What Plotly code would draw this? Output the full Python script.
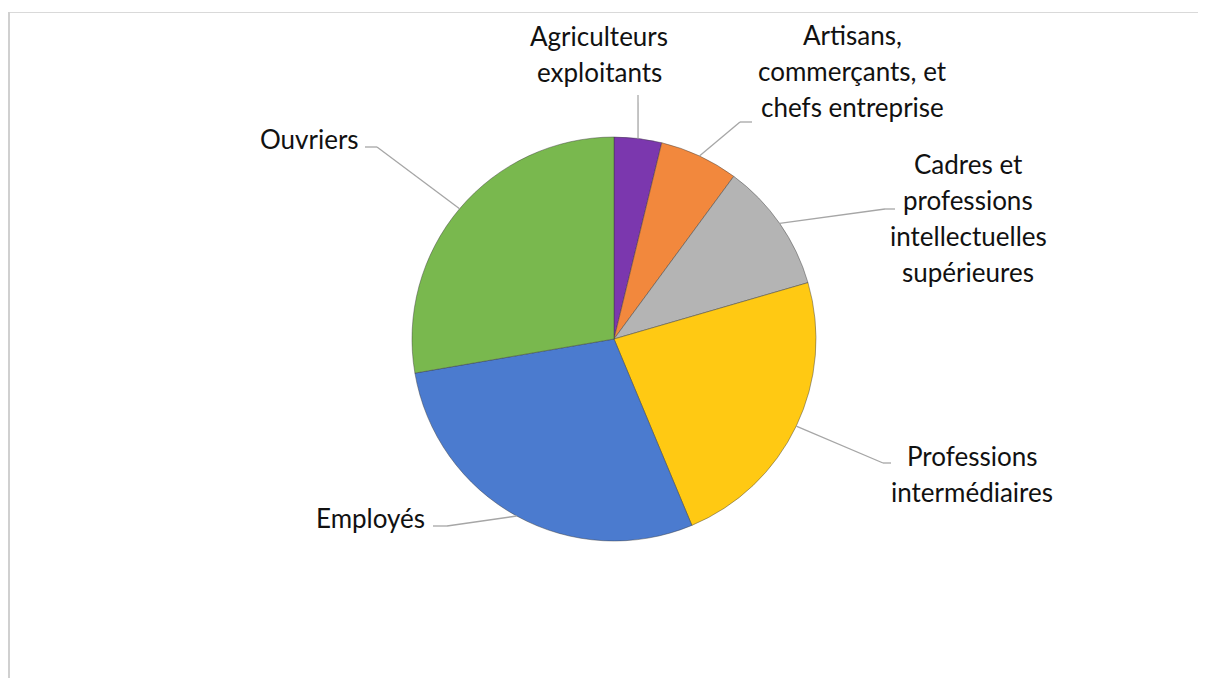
import math

import plotly.graph_objects as go

# slice data, clockwise from 12 o'clock
categories = [
    "Agriculteurs<br>exploitants",
    "Artisans,<br>commerçants, et<br>chefs entreprise",
    "Cadres et<br>professions<br>intellectuelles<br>supérieures",
    "Professions<br>intermédiaires",
    "Employés",
    "Ouvriers",
]
shares = [3.8, 6.3, 10.4, 23.2, 28.6, 27.7]
colors = ["#7b37ae", "#f2883d", "#b4b4b4", "#ffc913", "#4b7bcf", "#79b84e"]

# the page has an 8px body margin, so the figure sits 8px in from the window corner
PAGE_OFF = 8
W, H = 1206 - PAGE_OFF, 678 - PAGE_OFF
CX, CY, R = 614, 339, 202  # window pixels
LINE_H = 36

# label placement (window pixels): anchor point, xanchor, elbow of leader line, end of leader line
label_layout = [
    {"x": 599, "y": 54, "xanchor": "center", "elbow": (638, 95), "end": (638, 95)},
    {"x": 852, "y": 71, "xanchor": "center", "elbow": (740, 122), "end": (752, 122)},
    {"x": 968, "y": 218, "xanchor": "center", "elbow": (885, 209), "end": (895, 209)},
    {"x": 972, "y": 474, "xanchor": "center", "elbow": (883, 463), "end": (891, 463)},
    {"x": 427, "y": 518, "xanchor": "right", "elbow": (447, 526), "end": (433, 526)},
    {"x": 361, "y": 139, "xanchor": "right", "elbow": (377, 147), "end": (365, 147)},
]


def px(x, y):
    return (x - PAGE_OFF) / W, 1 - (y - PAGE_OFF) / H


fig = go.Figure()

x0, _ = px(CX - R, 0)
x1, _ = px(CX + R, 0)
_, y0 = px(0, CY + R)
_, y1 = px(0, CY - R)
fig.add_trace(
    go.Pie(
        labels=[c.replace("<br>", " ") for c in categories],
        values=shares,
        sort=False,
        direction="clockwise",
        rotation=0,
        textinfo="none",
        marker={"colors": colors, "line": {"color": "rgba(60,60,60,0.45)", "width": 1}},
        domain={"x": [x0, x1], "y": [y0, y1]},
        showlegend=False,
        hoverinfo="label+percent",
    )
)

# leader lines from the middle of each slice's rim, then the labels
total = sum(shares)
cum = 0.0
for cat, val, lay in zip(categories, shares, label_layout):
    mid = (cum + val / 2) / total * 2 * math.pi
    cum += val
    sx = CX + R * math.sin(mid)
    sy = CY - R * math.cos(mid)
    pts = [(sx, sy), lay["elbow"], lay["end"]]
    for (ax, ay), (bx, by) in zip(pts[:-1], pts[1:]):
        if (ax, ay) == (bx, by):
            continue
        pa = px(ax, ay)
        pb = px(bx, by)
        fig.add_shape(
            type="line", xref="paper", yref="paper",
            x0=pa[0], y0=pa[1], x1=pb[0], y1=pb[1],
            line={"color": "#a6a6a6", "width": 1.3},
        )
    lines = cat.split("<br>")
    for i, line in enumerate(lines):
        ly_px = lay["y"] + (i - (len(lines) - 1) / 2) * LINE_H
        lx, ly = px(lay["x"], ly_px)
        fig.add_annotation(
            x=lx, y=ly, xref="paper", yref="paper",
            text=line, showarrow=False,
            xanchor=lay["xanchor"], yanchor="middle", align="center",
            font={"family": "Lato, 'Noto Sans', sans-serif", "size": 26, "color": "#111111"},
        )

# chart area frame: top and left edges only are visible
tx0, ty = px(8, 12.5)
tx1, _ = px(1206, 12.5)
fig.add_shape(
    type="line", xref="paper", yref="paper",
    x0=tx0, y0=ty, x1=tx1, y1=ty,
    line={"color": "#d9d9d9", "width": 1},
)
lx0, ly0 = px(9, 12)
_, ly1 = px(9, 678)
fig.add_shape(
    type="line", xref="paper", yref="paper",
    x0=lx0, y0=ly0, x1=lx0, y1=ly1,
    line={"color": "#d0d0d0", "width": 2},
)

fig.update_layout(
    width=W,
    height=H,
    margin={"l": 0, "r": 0, "t": 0, "b": 0},
    paper_bgcolor="white",
    plot_bgcolor="white",
)

fig.write_html("out.html")
